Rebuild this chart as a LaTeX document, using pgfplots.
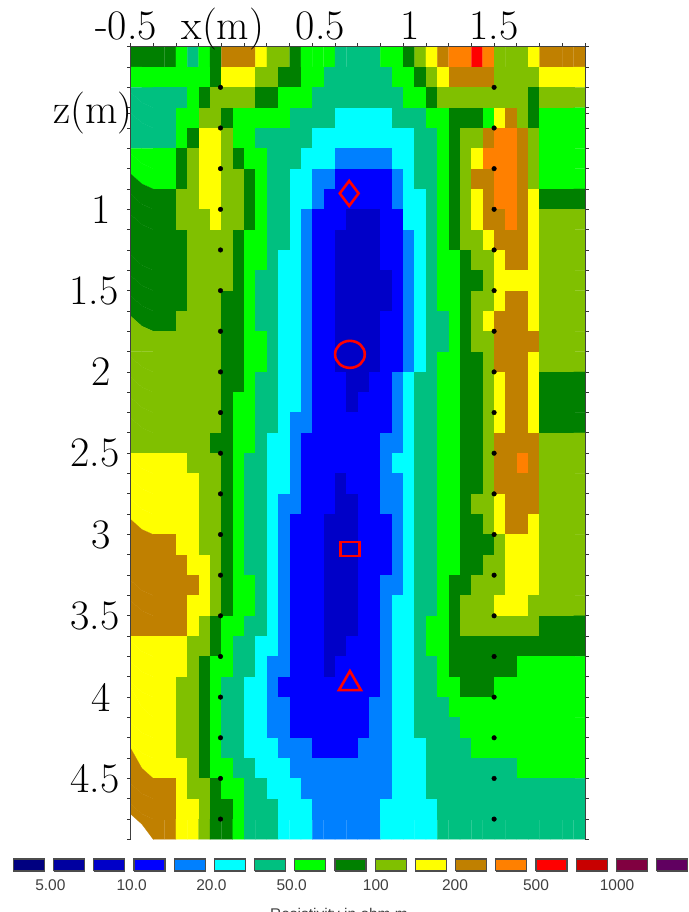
\documentclass[border=0pt]{standalone}
\usepackage{fontspec}
\usepackage{pgfplots}
\pgfplotsset{compat=1.18}
\newfontfamily\legfont{Liberation Sans}
\definecolor{c0}{RGB}{0,0,128}
\definecolor{c1}{RGB}{0,0,160}
\definecolor{c2}{RGB}{0,0,200}
\definecolor{c3}{RGB}{0,0,255}
\definecolor{c4}{RGB}{0,128,255}
\definecolor{c5}{RGB}{0,255,255}
\definecolor{c6}{RGB}{0,192,128}
\definecolor{c7}{RGB}{0,255,0}
\definecolor{c8}{RGB}{0,128,0}
\definecolor{c9}{RGB}{128,192,0}
\definecolor{c10}{RGB}{255,255,0}
\definecolor{c11}{RGB}{192,128,0}
\definecolor{c12}{RGB}{255,128,0}
\definecolor{c13}{RGB}{255,0,0}
\definecolor{c14}{RGB}{200,0,0}
\definecolor{c15}{RGB}{128,0,64}
\definecolor{c16}{RGB}{96,0,96}
\pgfplotsset{
  colormap={res}{rgb255=(0,0,128) rgb255=(0,0,160) rgb255=(0,0,200) rgb255=(0,0,255) rgb255=(0,128,255) rgb255=(0,255,255) rgb255=(0,192,128) rgb255=(0,255,0) rgb255=(0,128,0) rgb255=(128,192,0) rgb255=(255,255,0) rgb255=(192,128,0) rgb255=(255,128,0) rgb255=(255,0,0) rgb255=(200,0,0) rgb255=(128,0,64) rgb255=(96,0,96)},
  lab/.style={font=\fontsize{42pt}{42pt}\selectfont},
  box/.style={draw=black!70,line width=1.2pt},
}
\begin{document}
\begin{tikzpicture}[x=1pt,y=1pt]
\useasboundingbox (0,0) rectangle (688,912);
\begin{axis}[
  at={(130.5pt,72.6pt)},anchor=south west,
  scale only axis,width=454.5pt,height=792.7pt,
  xmin=-0.5,xmax=2,ymin=0,ymax=4.875,y dir=reverse,
  clip=false,
  axis on top,
  axis x line*=top,
  axis y line*=box,
  axis line style={black!75,line width=0.9pt},
  xtick={-0.5,0,0.5,1,1.5},
  xticklabels={\hspace*{-9pt}-0.5,\hspace*{3pt}x(m),\hspace*{16pt}0.5,\hspace*{14pt}1,1.5},
  minor xtick={-0.5,-0.375,...,2},
  ytick={0.41,1,1.5,2,2.5,3,3.5,4,4.5},
  yticklabels={\hspace*{-16pt}z(m),1,\hspace*{-14pt}1.5,2,\hspace*{-12pt}2.5,3,\hspace*{-12pt}3.5,4,\hspace*{-12pt}4.5},
  minor ytick={0,0.125,...,4.875},
  ytick pos=both,
  yticklabel pos=left,
  major tick length=3.5pt,minor tick length=3.5pt,
  tick style={black!80,line width=0.8pt},
  tick align=outside,
  xticklabel style={lab,anchor=base,yshift=4pt},
  yticklabel style={lab,anchor=center,xshift=-26pt},
  colormap name=res,
  colormap access=direct,
  point meta min=0,point meta max=16,
]
\addplot[matrix plot,draw=mapped color,line width=0.15pt,mesh/cols=40,point meta=\thisrowno{0}] table[row sep=\\,header=false,
  x expr={-0.46875+0.0625*mod(\coordindex,40)},
  y expr={0.0625+0.125*floor(\coordindex/40)}] {
8\\8\\8\\8\\7\\6\\7\\8\\11\\11\\11\\10\\9\\9\\8\\7\\7\\7\\6\\6\\6\\6\\7\\7\\8\\9\\10\\11\\12\\12\\13\\12\\9\\9\\9\\10\\11\\11\\11\\11\\
7\\7\\7\\7\\7\\7\\7\\8\\10\\10\\10\\9\\9\\8\\8\\7\\7\\6\\6\\6\\6\\6\\6\\7\\7\\8\\9\\10\\11\\11\\11\\11\\9\\9\\9\\9\\10\\10\\10\\10\\
6\\6\\6\\6\\6\\7\\8\\9\\9\\9\\9\\8\\8\\7\\7\\7\\6\\6\\6\\6\\6\\6\\6\\6\\7\\7\\8\\9\\9\\9\\9\\9\\9\\9\\9\\8\\9\\9\\9\\9\\
6\\6\\6\\6\\7\\7\\9\\9\\8\\7\\7\\7\\7\\7\\6\\6\\6\\6\\5\\5\\5\\5\\5\\6\\6\\6\\7\\7\\8\\8\\8\\7\\10\\11\\9\\8\\7\\7\\7\\7\\
6\\6\\6\\6\\7\\8\\10\\10\\9\\7\\7\\6\\6\\6\\6\\6\\5\\5\\5\\5\\5\\5\\5\\5\\5\\6\\6\\7\\8\\9\\9\\11\\12\\12\\11\\9\\7\\7\\7\\7\\
7\\7\\7\\7\\8\\9\\10\\10\\9\\8\\7\\7\\6\\6\\6\\5\\5\\5\\4\\4\\4\\4\\4\\5\\5\\6\\6\\7\\8\\9\\10\\12\\12\\12\\11\\9\\7\\7\\7\\7\\
7\\7\\7\\7\\8\\9\\10\\10\\9\\9\\8\\7\\6\\6\\5\\5\\4\\4\\3\\3\\3\\3\\3\\4\\5\\6\\6\\7\\8\\9\\11\\11\\12\\12\\11\\9\\7\\7\\7\\7\\
8\\8\\8\\8\\9\\9\\10\\10\\9\\9\\8\\7\\6\\6\\5\\5\\4\\3\\3\\3\\3\\3\\3\\4\\5\\5\\6\\7\\8\\9\\10\\11\\12\\12\\11\\10\\8\\8\\8\\8\\
8\\8\\8\\8\\9\\9\\9\\10\\9\\9\\8\\7\\6\\6\\5\\4\\3\\3\\3\\2\\2\\2\\3\\3\\5\\5\\6\\7\\8\\9\\10\\11\\11\\12\\11\\10\\9\\9\\9\\9\\
8\\8\\8\\8\\8\\9\\9\\9\\9\\8\\7\\7\\6\\6\\5\\4\\3\\3\\2\\2\\2\\2\\3\\3\\4\\5\\6\\7\\8\\9\\9\\10\\11\\11\\11\\10\\9\\9\\9\\9\\
8\\8\\8\\8\\8\\9\\9\\9\\9\\8\\7\\7\\6\\5\\5\\4\\3\\3\\2\\2\\2\\2\\3\\3\\4\\5\\6\\7\\7\\8\\9\\9\\10\\11\\11\\10\\9\\9\\9\\9\\
8\\8\\8\\8\\8\\9\\9\\9\\9\\8\\7\\6\\6\\5\\5\\4\\3\\3\\2\\2\\2\\2\\2\\3\\4\\5\\6\\7\\7\\8\\8\\9\\10\\10\\10\\10\\9\\9\\9\\9\\
8\\8\\8\\8\\8\\9\\9\\9\\8\\8\\7\\6\\6\\5\\5\\4\\3\\3\\2\\2\\2\\2\\2\\3\\4\\5\\6\\7\\7\\8\\9\\9\\10\\11\\11\\10\\9\\9\\9\\9\\
8\\8\\8\\8\\9\\9\\9\\9\\8\\8\\7\\6\\6\\5\\5\\4\\3\\3\\2\\2\\2\\2\\3\\3\\4\\5\\6\\6\\7\\8\\9\\10\\11\\11\\11\\10\\9\\9\\9\\9\\
9\\9\\9\\9\\9\\9\\9\\9\\8\\8\\7\\7\\6\\5\\5\\4\\3\\3\\2\\2\\2\\2\\3\\3\\4\\5\\6\\6\\7\\8\\9\\9\\11\\11\\11\\11\\9\\9\\9\\9\\
9\\9\\9\\9\\9\\9\\9\\9\\8\\8\\7\\7\\6\\5\\5\\4\\3\\3\\2\\2\\2\\2\\3\\3\\4\\5\\6\\7\\7\\8\\8\\9\\11\\11\\11\\10\\9\\9\\9\\9\\
9\\9\\9\\9\\9\\9\\9\\9\\8\\8\\7\\6\\6\\5\\5\\4\\3\\3\\3\\2\\2\\3\\3\\4\\5\\6\\6\\7\\7\\8\\8\\9\\10\\11\\11\\10\\8\\8\\8\\8\\
9\\9\\9\\9\\9\\9\\9\\9\\8\\7\\7\\6\\6\\5\\5\\4\\3\\3\\3\\2\\3\\3\\3\\4\\5\\6\\6\\7\\7\\8\\8\\9\\10\\11\\11\\10\\8\\8\\8\\8\\
9\\9\\9\\9\\9\\9\\9\\9\\8\\7\\7\\6\\6\\5\\4\\4\\3\\3\\3\\3\\3\\3\\3\\4\\5\\6\\6\\7\\7\\8\\8\\9\\10\\11\\11\\10\\8\\8\\8\\8\\
9\\9\\9\\9\\9\\9\\9\\8\\8\\7\\7\\6\\5\\5\\4\\3\\3\\3\\3\\3\\3\\3\\4\\4\\5\\6\\6\\7\\7\\8\\8\\9\\11\\11\\11\\11\\9\\9\\9\\9\\
10\\10\\10\\10\\10\\9\\9\\9\\8\\7\\6\\6\\5\\5\\4\\3\\3\\3\\3\\3\\3\\3\\4\\5\\5\\6\\6\\7\\7\\8\\8\\9\\11\\11\\12\\11\\9\\9\\9\\9\\
10\\10\\10\\10\\10\\10\\9\\9\\8\\7\\6\\6\\5\\5\\4\\3\\3\\3\\2\\3\\3\\3\\4\\4\\5\\6\\6\\7\\7\\8\\8\\9\\11\\11\\11\\11\\9\\9\\9\\9\\
10\\10\\10\\10\\10\\10\\9\\9\\8\\7\\6\\6\\5\\4\\4\\3\\3\\3\\2\\2\\3\\3\\4\\4\\5\\6\\6\\7\\7\\8\\9\\9\\10\\11\\11\\11\\9\\9\\9\\9\\
10\\10\\10\\10\\10\\10\\9\\9\\8\\7\\6\\6\\5\\4\\3\\3\\3\\2\\2\\2\\3\\3\\3\\4\\5\\6\\6\\7\\7\\8\\8\\9\\10\\11\\11\\10\\9\\9\\9\\9\\
11\\11\\11\\11\\10\\10\\9\\9\\8\\7\\6\\6\\5\\4\\3\\3\\3\\2\\2\\2\\3\\3\\3\\4\\5\\6\\6\\7\\7\\8\\8\\8\\9\\10\\10\\10\\9\\9\\9\\9\\
11\\11\\11\\11\\11\\10\\10\\9\\8\\7\\6\\6\\5\\4\\3\\3\\3\\2\\2\\2\\3\\3\\3\\4\\5\\6\\6\\7\\7\\8\\8\\9\\9\\10\\10\\10\\9\\9\\9\\9\\
11\\11\\11\\11\\11\\11\\10\\9\\8\\7\\7\\6\\5\\4\\3\\3\\3\\2\\2\\2\\3\\3\\4\\4\\5\\6\\6\\7\\8\\8\\9\\9\\9\\10\\10\\10\\9\\9\\9\\9\\
11\\11\\11\\11\\11\\10\\10\\9\\8\\7\\7\\6\\5\\4\\3\\3\\3\\2\\2\\2\\3\\3\\4\\5\\5\\6\\6\\7\\8\\9\\9\\9\\10\\10\\10\\9\\9\\9\\9\\9\\
11\\11\\11\\11\\11\\10\\9\\8\\7\\7\\6\\6\\5\\4\\3\\3\\3\\2\\2\\2\\3\\3\\4\\5\\5\\6\\7\\7\\8\\9\\9\\9\\9\\9\\9\\9\\8\\8\\8\\8\\
10\\10\\10\\10\\10\\9\\9\\8\\7\\6\\6\\5\\5\\4\\3\\3\\3\\2\\2\\3\\3\\3\\4\\5\\5\\6\\7\\7\\8\\8\\8\\8\\8\\8\\8\\8\\8\\8\\8\\8\\
10\\10\\10\\10\\10\\9\\8\\7\\7\\6\\6\\5\\4\\4\\3\\3\\3\\2\\3\\3\\3\\3\\4\\5\\5\\6\\6\\7\\8\\8\\8\\8\\8\\8\\7\\7\\7\\7\\7\\7\\
10\\10\\10\\10\\9\\9\\8\\7\\6\\6\\5\\5\\4\\3\\3\\3\\3\\3\\3\\3\\3\\3\\4\\5\\5\\6\\6\\7\\7\\8\\8\\8\\7\\7\\7\\7\\7\\7\\7\\7\\
10\\10\\10\\10\\9\\9\\8\\7\\6\\6\\5\\5\\4\\4\\3\\3\\3\\3\\3\\3\\3\\4\\4\\5\\5\\6\\6\\6\\7\\7\\7\\7\\7\\7\\7\\7\\7\\7\\7\\7\\
10\\10\\10\\10\\9\\9\\8\\7\\6\\6\\5\\5\\4\\4\\3\\3\\3\\3\\3\\3\\3\\4\\4\\5\\5\\6\\6\\6\\6\\7\\7\\7\\7\\7\\7\\7\\7\\7\\7\\7\\
10\\10\\10\\10\\9\\9\\8\\7\\6\\6\\5\\5\\5\\4\\4\\4\\3\\3\\3\\3\\4\\4\\4\\5\\5\\5\\6\\6\\6\\6\\7\\7\\7\\7\\7\\7\\7\\7\\7\\7\\
10\\10\\10\\10\\10\\9\\8\\7\\7\\6\\6\\5\\5\\5\\4\\4\\4\\4\\4\\4\\4\\4\\4\\5\\5\\5\\6\\6\\6\\6\\6\\6\\6\\6\\7\\7\\7\\7\\7\\7\\
11\\11\\11\\11\\10\\9\\9\\8\\7\\7\\6\\6\\5\\5\\5\\4\\4\\4\\4\\4\\4\\4\\4\\5\\5\\5\\6\\6\\6\\6\\6\\6\\6\\6\\6\\6\\6\\6\\6\\6\\
11\\11\\11\\11\\10\\10\\9\\8\\8\\7\\6\\6\\6\\5\\5\\5\\4\\4\\4\\4\\4\\4\\5\\5\\5\\5\\5\\6\\6\\6\\6\\6\\6\\6\\6\\6\\6\\6\\6\\6\\
11\\11\\11\\11\\10\\10\\9\\8\\8\\7\\6\\6\\6\\5\\5\\5\\4\\4\\4\\4\\4\\4\\5\\5\\5\\5\\5\\6\\6\\6\\6\\6\\6\\6\\6\\6\\6\\6\\6\\6\\
};
% measurement points
\addplot[only marks,mark=*,mark size=2.3pt,black] coordinates {
(-0.005,0.25)(-0.005,0.5)(-0.005,0.75)(-0.005,1)(-0.005,1.25)(-0.005,1.5)(-0.005,1.75)(-0.005,2)(-0.005,2.25)(-0.005,2.5)(-0.005,2.75)(-0.005,3)(-0.005,3.25)(-0.005,3.5)(-0.005,3.75)(-0.005,4)(-0.005,4.25)(-0.005,4.5)(-0.005,4.75)
(1.5,0.25)(1.5,0.5)(1.5,0.75)(1.5,1)(1.5,1.25)(1.5,1.5)(1.5,1.75)(1.5,2)(1.5,2.25)(1.5,2.5)(1.5,2.75)(1.5,3)(1.5,3.25)(1.5,3.5)(1.5,3.75)(1.5,4)(1.5,4.25)(1.5,4.5)(1.5,4.75)};
% red markers
\addplot[only marks,mark=diamond,mark size=12.5pt,mark options={draw=red,fill=none,line width=2.6pt}] coordinates {(0.703,0.902)};
\addplot[only marks,mark=o,mark size=13.5pt,mark options={draw=red,fill=none,line width=2.6pt,xscale=1.1}] coordinates {(0.707,1.892)};
\addplot[only marks,mark=square,mark size=7pt,mark options={draw=red,fill=none,line width=2.6pt,xscale=1.36}] coordinates {(0.707,3.089)};
\addplot[only marks,mark=triangle,mark size=12.7pt,mark options={draw=red,fill=none,line width=2.6pt}] coordinates {(0.707,3.918)};
\end{axis}
\begin{axis}[
  at={(0pt,41pt)},anchor=south west,
  scale only axis,width=688pt,height=12pt,
  xmin=0,xmax=688,ymin=0,ymax=12,
  clip=false,
  axis line style={draw=none},
  tick style={draw=none},
  ytick=\empty,
  xtick={50.4,131.6,211.4,291.7,375.9,455,536,617},
  xticklabels={5.00,10.0,20.0,50.0,100,200,500,1000},
  xticklabel style={font=\legfont\fontsize{15.5pt}{16pt}\selectfont,text=black!75,anchor=base,yshift=-19pt},
  xlabel={Resistivity in ohm.m},
  xlabel style={font=\legfont\fontsize{15.5pt}{16pt}\selectfont,text=black!75,xshift=-5pt,anchor=base,yshift=-26pt},
]
\addplot[box,fill=c0] coordinates {(13.3,0)(44.3,0)(44.3,12)(13.3,12)(13.3,0)};
\addplot[box,fill=c1] coordinates {(53.5,0)(84.5,0)(84.5,12)(53.5,12)(53.5,0)};
\addplot[box,fill=c2] coordinates {(93.7,0)(124.7,0)(124.7,12)(93.7,12)(93.7,0)};
\addplot[box,fill=c3] coordinates {(133.9,0)(164.9,0)(164.9,12)(133.9,12)(133.9,0)};
\addplot[box,fill=c4] coordinates {(174.1,0)(205.1,0)(205.1,12)(174.1,12)(174.1,0)};
\addplot[box,fill=c5] coordinates {(214.3,0)(245.3,0)(245.3,12)(214.3,12)(214.3,0)};
\addplot[box,fill=c6] coordinates {(254.5,0)(285.5,0)(285.5,12)(254.5,12)(254.5,0)};
\addplot[box,fill=c7] coordinates {(294.7,0)(325.7,0)(325.7,12)(294.7,12)(294.7,0)};
\addplot[box,fill=c8] coordinates {(334.9,0)(365.9,0)(365.9,12)(334.9,12)(334.9,0)};
\addplot[box,fill=c9] coordinates {(375.1,0)(406.1,0)(406.1,12)(375.1,12)(375.1,0)};
\addplot[box,fill=c10] coordinates {(415.3,0)(446.3,0)(446.3,12)(415.3,12)(415.3,0)};
\addplot[box,fill=c11] coordinates {(455.5,0)(486.5,0)(486.5,12)(455.5,12)(455.5,0)};
\addplot[box,fill=c12] coordinates {(495.7,0)(526.7,0)(526.7,12)(495.7,12)(495.7,0)};
\addplot[box,fill=c13] coordinates {(535.9,0)(566.9,0)(566.9,12)(535.9,12)(535.9,0)};
\addplot[box,fill=c14] coordinates {(576.1,0)(607.1,0)(607.1,12)(576.1,12)(576.1,0)};
\addplot[box,fill=c15] coordinates {(616.3,0)(647.3,0)(647.3,12)(616.3,12)(616.3,0)};
\addplot[box,fill=c16] coordinates {(656.5,0)(687.5,0)(687.5,12)(656.5,12)(656.5,0)};
\end{axis}
\end{tikzpicture}
\end{document}
